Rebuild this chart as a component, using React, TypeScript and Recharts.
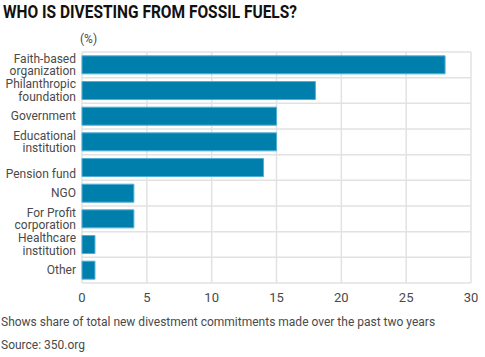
import { BarChart, Bar, XAxis, YAxis, CartesianGrid } from 'recharts';

const categories = [
  'Faith-based\norganization',
  'Philanthropic\nfoundation',
  'Government',
  'Educational\ninstitution',
  '\nPension fund',
  'NGO',
  'For Profit\ncorporation',
  'Healthcare\ninstitution',
  'Other',
];
const shares = [28, 18, 15, 15, 14, 4, 4, 1, 1];
const xTicks = [0, 5, 10, 15, 20, 25, 30];

const data = categories.map((name, i) => ({ name, value: shares[i] }));

const FONT = 'Roboto, "Open Sans", sans-serif';
const TEXT = '#4a4a4a';

function CategoryTick({ x, y, payload }: any) {
  const lines = String(payload.value).split('\n');
  const lh = 12.5;
  const start = y - ((lines.length - 1) * lh) / 2;
  return (
    <text x={x} y={start} textAnchor="end" fill={TEXT} fontSize={12} fontFamily={FONT}>
      {lines.map((l, i) => (
        <tspan key={i} x={x} y={start + i * lh} dy="0.35em">
          {l}
        </tspan>
      ))}
    </text>
  );
}

export default function App() {
  const bandLines = ({ offset }: any) => {
    const n = categories.length;
    const step = offset.height / n;
    return Array.from({ length: n + 1 }, (_, i) => offset.top + i * step);
  };

  return (
    <div style={{ position: 'relative', width: 485, height: 357, background: '#fff', fontFamily: FONT }}>
      <style>{'body{margin:0}'}</style>
      <svg width={485} height={30} style={{ position: 'absolute', left: 0, top: 0 }}>
        <text
          x={3}
          y={18}
          fontSize={19}
          fontWeight={700}
          fill="#111"
          fontFamily={FONT}
          textLength={294}
          lengthAdjust="spacingAndGlyphs"
        >
          WHO IS DIVESTING FROM FOSSIL FUELS?
        </text>
      </svg>
      <div style={{ position: 'absolute', left: 80, top: 32, fontSize: 12, color: TEXT }}>(%)</div>
      <div style={{ position: 'absolute', left: 0, top: 0 }}>
        <BarChart
          width={485}
          height={310}
          data={data}
          layout="vertical"
          margin={{ top: 52, right: 14, bottom: 7, left: 0 }}
          barCategoryGap="15%"
        >
          <CartesianGrid
            stroke="#e2e2e2"
            strokeWidth={1.5}
            horizontalCoordinatesGenerator={bandLines}
          />
          <XAxis
            type="number"
            domain={[0, 30]}
            ticks={xTicks}
            axisLine={false}
            tickLine={false}
            tickSize={0}
            tickMargin={10}
            height={20}
            tick={{ fill: TEXT, fontSize: 13, fontFamily: FONT }}
          />
          <YAxis
            type="category"
            dataKey="name"
            width={82}
            axisLine={false}
            tickLine={false}
            tickSize={0}
            tickMargin={6}
            interval={0}
            tick={<CategoryTick />}
          />
          <Bar dataKey="value" fill="#007eac" stroke="#4fb0d6" strokeWidth={1} isAnimationActive={false} />
        </BarChart>
      </div>
      <div style={{ position: 'absolute', left: 1, top: 315, fontSize: 12, color: TEXT }}>
        Shows share of total new divestment commitments made over the past two years
      </div>
      <div style={{ position: 'absolute', left: 1, top: 338, fontSize: 12, color: TEXT }}>Source: 350.org</div>
    </div>
  );
}
